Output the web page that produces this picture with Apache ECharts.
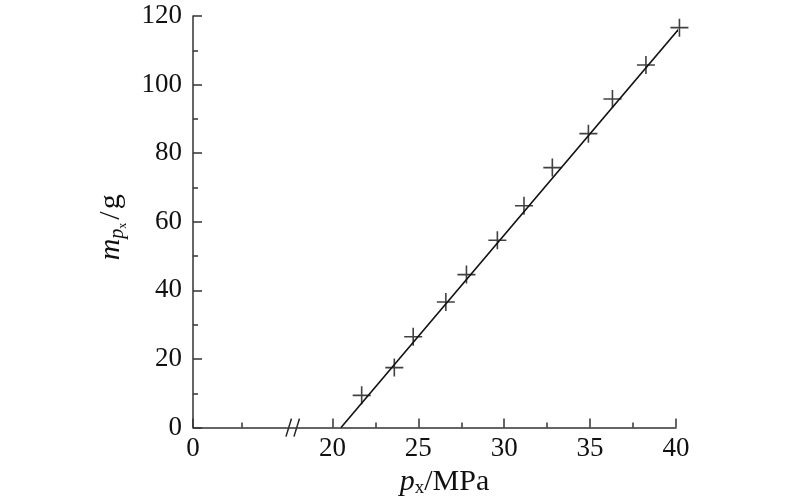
<!DOCTYPE html>
<html>
<head>
<meta charset="utf-8">
<script src="https://cdn.jsdelivr.net/npm/echarts@6/dist/echarts.min.js"></script>
<style>html,body{margin:0;padding:0;background:#fff}#c{width:800px;height:503px}</style>
</head>
<body>
<div id="c"></div>
<script>
// Measured points (px in MPa, m in g)
const pxValues = [21.7, 23.6, 24.7, 26.6, 27.8, 29.6, 31.15, 32.8, 34.9, 36.3, 38.25, 40.2];
const mValues  = [9.4, 17.5, 26.5, 36.6, 44.6, 54.6, 64.7, 75.8, 85.7, 95.8, 105.7, 116.6];
// Fitted line endpoints
const fitX = [20.5, 40.2];
const fitY = [0, 116.4];
// Broken x axis: the "0" sits at this axis position, values >= 20 are true MPa
const AXIS_ZERO_POS = 11.88;
const BREAK_POS = 17.67;
const xMajorTicks = [AXIS_ZERO_POS, 20, 25, 30, 35, 40];
const xTickLabels = ['0', '20', '25', '30', '35', '40'];
const xMinorTicks = [14.69, 22.5, 27.5, 32.5, 37.5];
const yTickValues = [0, 20, 40, 60, 80, 100, 120];

const FONT = "'Liberation Serif', 'Times New Roman', Times, serif";
const chart = echarts.init(document.getElementById('c'), null, {renderer: 'canvas'});
const axisColor = '#333';
const textColor = '#111';
const scatterData = pxValues.map((x, i) => [x, mValues[i]]);
const lineData = fitX.map((x, i) => [x, fitY[i]]);

const option = {
  animation: false,
  backgroundColor: '#fff',
  grid: {left: 193, right: 124, top: 16, bottom: 75, containLabel: false},
  xAxis: [{
    type: 'value', min: AXIS_ZERO_POS, max: 40,
    axisLine: {show: true, lineStyle: {color: axisColor, width: 1.5}},
    axisTick: {show: true, inside: true, length: 9, lineStyle: {color: axisColor, width: 1.5}, customValues: xMajorTicks},
    axisLabel: {
      show: true, margin: 8, color: textColor, fontFamily: FONT, fontSize: 27,
      customValues: xMajorTicks,
      formatter: function (v) {
        const idx = xMajorTicks.findIndex(t => Math.abs(t - v) < 1e-6);
        return idx >= 0 ? xTickLabels[idx] : '';
      }
    },
    splitLine: {show: false},
    name: '{pi|p}{sub|x}{n|/MPa}',
    nameLocation: 'middle', nameGap: 29,
    nameTextStyle: {
      padding: [0, 0, 0, 20],
      rich: {
        pi: {fontFamily: FONT, fontStyle: 'italic', fontSize: 30, color: textColor},
        sub: {fontFamily: FONT, fontSize: 19, color: textColor, padding: [12, 0, 0, 0]},
        n: {fontFamily: FONT, fontSize: 30, color: textColor}
      }
    }
  }, {
    type: 'value', min: AXIS_ZERO_POS, max: 40, position: 'bottom', gridIndex: 0,
    axisLine: {show: false},
    axisTick: {show: true, inside: true, length: 5, lineStyle: {color: axisColor, width: 1.5}, customValues: xMinorTicks},
    axisLabel: {show: false},
    splitLine: {show: false}
  }],
  yAxis: {
    type: 'value', min: 0, max: 120, interval: 20,
    axisLine: {show: true, lineStyle: {color: axisColor, width: 1.5}},
    axisTick: {show: true, inside: true, length: 9, lineStyle: {color: axisColor, width: 1.5}},
    minorTick: {show: true, splitNumber: 2, length: 5, lineStyle: {color: axisColor, width: 1.5}},
    axisLabel: {margin: 11, color: textColor, fontFamily: FONT, fontSize: 27},
    splitLine: {show: false},
    name: '{m|m}{p|p}{x|x}{s|/}{n|g}',
    nameLocation: 'middle', nameGap: 64,
    nameTextStyle: {
      padding: [0, 11, 0, 0],
      rich: {
        m: {fontFamily: FONT, fontStyle: 'italic', fontSize: 30, color: textColor},
        p: {fontFamily: FONT, fontStyle: 'italic', fontSize: 20, color: textColor, padding: [14, 0, 0, 0]},
        x: {fontFamily: FONT, fontSize: 12, color: textColor, padding: [24, 0, 0, 0]},
        s: {fontFamily: FONT, fontSize: 30, color: textColor, padding: [0, 2, 0, 3]},
        n: {fontFamily: FONT, fontSize: 30, color: textColor}
      }
    }
  },
  series: [{
    type: 'line', data: lineData, showSymbol: false, symbol: 'none', clip: false,
    lineStyle: {color: '#111', width: 1.6}, z: 2
  }, {
    type: 'scatter', data: scatterData, clip: false,
    symbol: 'path://M0,-10 L0,10 M-10,0 L10,0', symbolSize: 18,
    itemStyle: {color: 'rgba(0,0,0,0)', borderColor: '#111', borderWidth: 1.6},
    z: 3
  }]
};
chart.setOption(option);

// Axis break marks "//" placed at BREAK_POS through the axis scale
const bp = chart.convertToPixel({xAxisIndex: 0, yAxisIndex: 0}, [BREAK_POS, 0]);
chart.setOption({
  graphic: [
    {type: 'line', shape: {x1: bp[0] - 6.5, y1: bp[1] + 9, x2: bp[0] - 1, y2: bp[1] - 9}, style: {stroke: '#222', lineWidth: 1.5}},
    {type: 'line', shape: {x1: bp[0] + 1.5, y1: bp[1] + 9, x2: bp[0] + 7, y2: bp[1] - 9}, style: {stroke: '#222', lineWidth: 1.5}}
  ]
});
</script>
</body>
</html>
